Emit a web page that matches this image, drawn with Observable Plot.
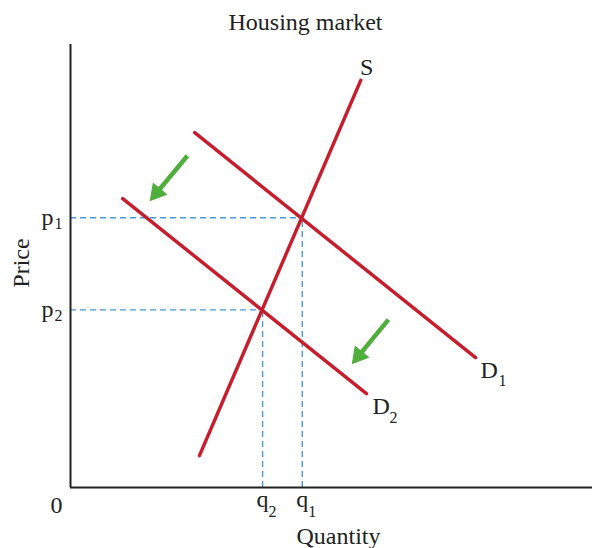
<!DOCTYPE html>
<html>
<head>
<meta charset="utf-8">
<script src="https://cdn.jsdelivr.net/npm/d3@7"></script>
<script src="https://cdn.jsdelivr.net/npm/@observablehq/plot@0.6"></script>
<style>
  html, body { margin: 0; padding: 0; background: #fff; }
  #chart svg { display: block; }
</style>
</head>
<body>
<div id="chart"></div>
<script>
// Supply and demand in the housing market (quantity on x, price on y, arbitrary units)
const supply  = [{q: 2.47, p: 0.72}, {q: 5.56, p: 9.19}];
const demand1 = [{q: 2.38, p: 8.01}, {q: 7.76, p: 2.93}];
const demand2 = [{q: 1.00, p: 6.52}, {q: 5.67, p: 2.12}];

// Equilibrium points before (1) and after (2) the demand shift
const eqQuantity = [4.44, 3.68];
const eqPrice    = [6.09, 4.01];
const eqSubs     = ["1", "2"];

// Arrows showing the leftward shift of demand
const shiftFrom = [{q: 2.24, p: 7.49}, {q: 6.09, p: 3.79}];
const shiftTo   = [{q: 1.53, p: 6.48}, {q: 5.40, p: 2.80}];

const equilibria = eqQuantity.map((q, i) => ({q, p: eqPrice[i], sub: eqSubs[i]}));

const RED = "#c51f2e";
const BLUE = "#4a98d4";
const GREEN = "#4fae3c";
const FONT = "Liberation Serif";
const FS = 24, SUB = 16;
const HEAD_R = 6.4;               // arrowhead triangle radius (px)
const HEAD_BACK = 2 * Math.sqrt(HEAD_R * HEAD_R * Math.PI / (3 * Math.sqrt(3))); // tip-to-centre distance

function draw(shafts, heads) {
  return Plot.plot({
    width: 592,
    height: 548,
    marginLeft: 70,
    marginRight: 0,
    marginTop: 44,
    marginBottom: 61,
    style: {fontFamily: FONT, background: "#fff", color: "#222", overflow: "visible"},
    x: {domain: [0, 10], axis: null},
    y: {domain: [0, 10], axis: null},
    marks: [
      // dashed guides from the equilibria to the axes
      Plot.ruleY(equilibria, {y: "p", x1: 0, x2: "q", stroke: BLUE, strokeWidth: 1.4, strokeDasharray: "6,4"}),
      Plot.ruleX(equilibria, {x: "q", y1: 0, y2: "p", stroke: BLUE, strokeWidth: 1.4, strokeDasharray: "6,4"}),
      // axes
      Plot.ruleX([0], {stroke: "#222", strokeWidth: 2}),
      Plot.ruleY([0], {stroke: "#222", strokeWidth: 2}),
      // supply and demand curves
      Plot.line(supply,  {x: "q", y: "p", stroke: RED, strokeWidth: 3.5}),
      Plot.line(demand1, {x: "q", y: "p", stroke: RED, strokeWidth: 3.5}),
      Plot.line(demand2, {x: "q", y: "p", stroke: RED, strokeWidth: 3.5}),
      // shift arrows: shaft plus a filled triangular head
      Plot.link(shafts, {x1: "x1", y1: "y1", x2: "x2", y2: "y2", stroke: GREEN, strokeWidth: 4.5}),
      Plot.dot(heads, {x: "x", y: "y", symbol: "triangle", r: HEAD_R, rotate: "angle", fill: GREEN, stroke: GREEN, strokeWidth: 1}),
      // curve labels
      Plot.text([supply[1]], {x: "q", y: "p", text: () => "S", fontSize: FS, dx: 6, dy: -5, lineAnchor: "bottom"}),
      Plot.text([demand1[1]], {x: "q", y: "p", text: () => "D", fontSize: FS, textAnchor: "start", dx: 5, dy: 20, lineAnchor: "bottom"}),
      Plot.text([demand1[1]], {x: "q", y: "p", text: () => "1", fontSize: SUB, textAnchor: "start", dx: 23, dy: 28, lineAnchor: "bottom"}),
      Plot.text([demand2[1]], {x: "q", y: "p", text: () => "D", fontSize: FS, textAnchor: "start", dx: 6, dy: 20, lineAnchor: "bottom"}),
      Plot.text([demand2[1]], {x: "q", y: "p", text: () => "2", fontSize: SUB, textAnchor: "start", dx: 23, dy: 29, lineAnchor: "bottom"}),
      // price tick labels p1, p2
      Plot.text(equilibria, {x: 0, y: "p", text: () => "p", fontSize: FS, textAnchor: "end", dx: -17, dy: 7, lineAnchor: "bottom"}),
      Plot.text(equilibria, {x: 0, y: "p", text: "sub", fontSize: SUB, textAnchor: "start", dx: -16, dy: 11, lineAnchor: "bottom"}),
      // quantity tick labels q1, q2
      Plot.text(equilibria, {x: "q", y: 0, text: () => "q", fontSize: FS, textAnchor: "middle", dy: 19, lineAnchor: "bottom"}),
      Plot.text(equilibria, {x: "q", y: 0, text: "sub", fontSize: SUB, textAnchor: "start", dx: 6, dy: 29, lineAnchor: "bottom"}),
      // origin
      Plot.text([0], {x: 0, y: 0, text: () => "0", fontSize: FS, textAnchor: "middle", dx: -14, dy: 25, lineAnchor: "bottom"}),
      // axis titles and chart title
      Plot.text(["Quantity"], {frameAnchor: "bottom", text: d => d, fontSize: FS, dx: 7, dy: 56, lineAnchor: "bottom"}),
      Plot.text(["Price"], {frameAnchor: "left", text: d => d, fontSize: FS, rotate: -90, textAnchor: "middle", dx: -49, dy: -3, lineAnchor: "middle"}),
      Plot.text(["Housing market"], {frameAnchor: "top", text: d => d, fontSize: FS, dx: -26, dy: -15, lineAnchor: "bottom"})
    ]
  });
}

// First pass gives the scales, used to orient the arrowheads in screen space.
const probe = draw([], []);
const sx = probe.scale("x"), sy = probe.scale("y");
const shafts = [], heads = [];
shiftFrom.forEach((from, i) => {
  const to = shiftTo[i];
  const ax = sx.apply(from.q), ay = sy.apply(from.p);
  const bx = sx.apply(to.q),   by = sy.apply(to.p);
  const len = Math.hypot(bx - ax, by - ay);
  const ux = (bx - ax) / len, uy = (by - ay) / len;
  const cx = bx - ux * HEAD_BACK, cy = by - uy * HEAD_BACK;
  shafts.push({x1: from.q, y1: from.p, x2: sx.invert(cx), y2: sy.invert(cy)});
  heads.push({x: sx.invert(cx), y: sy.invert(cy), angle: Math.atan2(ux, -uy) * 180 / Math.PI});
});

document.getElementById("chart").appendChild(draw(shafts, heads));
</script>
</body>
</html>
